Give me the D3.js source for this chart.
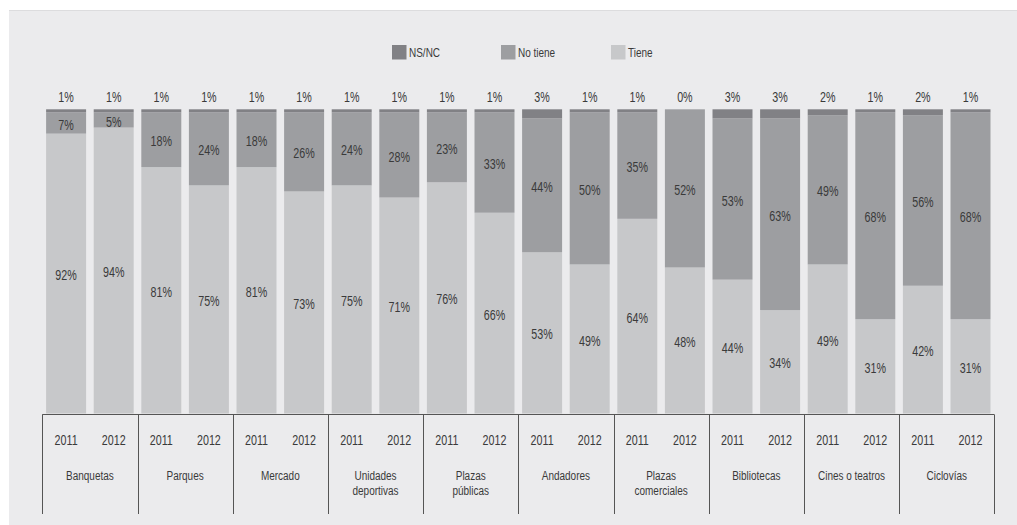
<!DOCTYPE html>
<html><head><meta charset="utf-8">
<script src="https://cdn.jsdelivr.net/npm/d3@7"></script>
<style>
html,body{margin:0;padding:0;background:#fff;}
svg text{font-family:"Liberation Sans","Arial",sans-serif;fill:#3a3a3a;}
</style></head><body>
<svg id="c" width="1017" height="525"></svg>
<script>
const categories = ["Banquetas","Parques","Mercado","Unidades\ndeportivas","Plazas\npúblicas","Andadores","Plazas\ncomerciales","Bibliotecas","Cines o teatros","Ciclovías"];
const years = ["2011","2012"];
const seriesNames = ["NS/NC","No tiene","Tiene"];
// values per category: [2011, 2012]
const nsnc    = [[1,1],[1,1],[1,1],[1,1],[1,1],[3,1],[1,0],[3,3],[2,1],[2,1]];
const noTiene = [[7,5],[18,24],[18,26],[24,28],[23,33],[44,50],[35,52],[53,63],[49,68],[56,68]];
const tiene   = [[92,94],[81,75],[81,73],[75,71],[76,66],[53,49],[64,48],[44,34],[49,31],[42,31]];
const colors = {"NS/NC":"#818185","No tiene":"#9d9ea1","Tiene":"#c7c8ca"};

function label(sel, x, y, txt, size, sx, anchor){
  const t = sel.append("text")
    .attr("transform",`translate(${x},${y}) scale(${sx},1)`)
    .attr("text-anchor",anchor||"middle")
    .attr("font-size",size);
  txt.split("\n").forEach((ln,k)=>{
    t.append("tspan").attr("x",0).attr("dy",k===0?"0.35em":"1.1em").text(ln);
  });
  return t;
}

const svg = d3.select("#c");
svg.append("rect").attr("x",9).attr("y",10).attr("width",1008).attr("height",515).attr("fill","#ebebed");
svg.append("line").attr("x1",9).attr("x2",1017).attr("y1",10.5).attr("y2",10.5).attr("stroke","#dcdcde");

const x0 = d3.scaleBand().domain(categories).range([42.3,994.3]);
const x1 = d3.scaleBand().domain(years).range([0,x0.bandwidth()]).paddingInner(0.16).paddingOuter(0.08);
const y = d3.scaleLinear().domain([0,100]).range([413.5,109.3]);

const rows = [];
categories.forEach((c,i)=>years.forEach((yr,j)=>{
  rows.push({cat:c,year:yr,"Tiene":tiene[i][j],"No tiene":noTiene[i][j],"NS/NC":nsnc[i][j]});
}));
const stack = d3.stack().keys(["Tiene","No tiene","NS/NC"]);
const layers = stack(rows);

const g = svg.append("g");
layers.forEach(layer=>{
  g.selectAll(null).data(layer).enter().append("rect")
    .attr("x",d=>x0(d.data.cat)+x1(d.data.year))
    .attr("width",x1.bandwidth())
    .attr("y",d=>y(d[1]))
    .attr("height",d=>y(d[0])-y(d[1]))
    .attr("fill",colors[layer.key]);
});
layers.forEach(layer=>{
  layer.forEach(d=>{
    const cx = x0(d.data.cat)+x1(d.data.year)+x1.bandwidth()/2;
    const cy = layer.key==="NS/NC" ? y(100)-12.5 : (y(d[0])+y(d[1]))/2 + 1.5;
    label(g, cx, cy, d.data[layer.key]+"%", 14.5, 0.74);
  });
});

// axis
const ax = svg.append("g");
ax.append("line").attr("x1",x0.range()[0]).attr("x2",x0.range()[1]).attr("y1",414.5).attr("y2",414.5).attr("stroke","#555").attr("stroke-width",1);
const bounds = categories.map(c=>x0(c)).concat([x0.range()[1]]);
ax.selectAll(null).data(bounds).enter().append("line")
  .attr("x1",d=>Math.round(d)+0.5).attr("x2",d=>Math.round(d)+0.5)
  .attr("y1",414.5).attr("y2",514).attr("stroke","#555");
rows.forEach(r=>{
  label(ax, x0(r.cat)+x1(r.year)+x1.bandwidth()/2, 440, r.year, 14.5, 0.74);
});
categories.forEach(c=>{
  label(ax, x0(c)+x0.bandwidth()/2, 475, c, 13.5, 0.74);
});

// legend
const legX = [392,501,611];
seriesNames.forEach((s,i)=>{
  svg.append("rect").attr("x",legX[i]).attr("y",45).attr("width",14.5).attr("height",14.5).attr("fill",colors[s]);
  label(svg, legX[i]+17, 52.5, s, 13.5, 0.74, "start");
});
</script>
</body></html>
